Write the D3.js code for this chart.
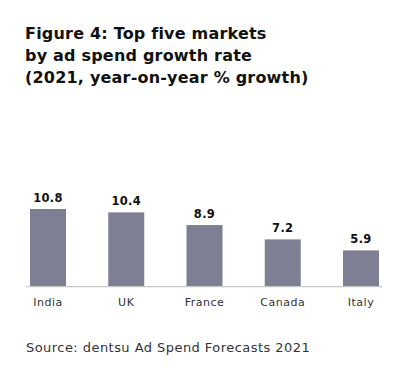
<!DOCTYPE html>
<html>
<head>
<meta charset="utf-8">
<script src="https://cdn.jsdelivr.net/npm/d3@7.9.0/dist/d3.min.js"></script>
<style>
  html, body { margin: 0; padding: 0; background: #fff; }
  svg { display: block; font-family: "DejaVu Sans", Lato, sans-serif; }
</style>
</head>
<body>
<div id="chart"></div>
<script>
const markets = ['India', 'UK', 'France', 'Canada', 'Italy'];
const growth = [10.8, 10.4, 8.9, 7.2, 5.9];
const titleLines = [
  'Figure 4: Top five markets',
  'by ad spend growth rate',
  '(2021, year-on-year % growth)'
];
const source = 'Source: dentsu Ad Spend Forecasts 2021';

const width = 418, height = 385;
const svg = d3.select('#chart').append('svg')
  .attr('width', width)
  .attr('height', height);

svg.append('rect').attr('width', width).attr('height', height).attr('fill', '#fff');

// title
svg.append('text')
  .attr('x', 25)
  .attr('y', 39)
  .attr('font-size', 16)
  .attr('font-weight', 'bold')
  .attr('letter-spacing', 0.2)
  .attr('fill', '#111')
  .selectAll('tspan')
  .data(titleLines)
  .join('tspan')
    .attr('x', 25)
    .attr('dy', (d, i) => i === 0 ? 0 : 21.8)
    .text(d => d);

const baseline = 286.7;
const x = d3.scaleBand()
  .domain(markets)
  .range([30, 379])
  .paddingInner(0.54)
  .paddingOuter(0);

const y = d3.scaleLinear()
  .domain([1.6, d3.max(growth)])
  .range([baseline, 209]);

const data = markets.map((m, i) => ({ market: m, value: growth[i] }));

svg.append('g')
  .selectAll('rect')
  .data(data)
  .join('rect')
    .attr('x', d => x(d.market))
    .attr('y', d => y(d.value))
    .attr('width', x.bandwidth())
    .attr('height', d => baseline - y(d.value))
    .attr('fill', '#7f7f94');

// axis line
svg.append('line')
  .attr('x1', 26).attr('x2', 382)
  .attr('y1', baseline).attr('y2', baseline)
  .attr('stroke', '#c8c8c8')
  .attr('stroke-width', 1.2);

// value labels
svg.append('g')
  .selectAll('text')
  .data(data)
  .join('text')
    .attr('x', d => x(d.market) + x.bandwidth() / 2)
    .attr('y', d => y(d.value) - 7)
    .attr('text-anchor', 'middle')
    .attr('font-size', 11.5)
    .attr('font-weight', 'bold')
    .attr('letter-spacing', 0.3)
    .attr('fill', '#111')
    .text(d => d.value.toFixed(1));

// category labels
svg.append('g')
  .selectAll('text')
  .data(data)
  .join('text')
    .attr('x', d => x(d.market) + x.bandwidth() / 2)
    .attr('y', 306)
    .attr('text-anchor', 'middle')
    .attr('font-size', 11)
    .attr('letter-spacing', 0.5)
    .attr('fill', '#333')
    .text(d => d.market);

svg.append('text')
  .attr('x', 26)
  .attr('y', 352)
  .attr('font-size', 13)
  .attr('letter-spacing', 0.45)
  .attr('fill', '#333')
  .text(source);
</script>
</body>
</html>
